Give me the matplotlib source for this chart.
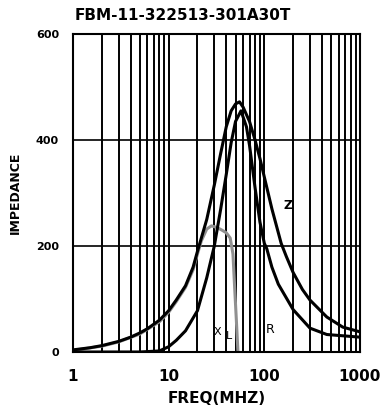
import matplotlib
matplotlib.use("Agg")
import matplotlib.pyplot as plt
from matplotlib.ticker import FixedLocator, NullFormatter

# curva Z (impedância total)
freq_z = [1, 1.5, 2, 3, 4, 5, 6, 8, 10, 12, 15, 18, 20, 25, 30, 35, 40, 45, 50, 55, 60,
          70, 80, 90, 100, 120, 150, 170, 200, 250, 300, 450, 660, 1000]
imp_z = [4, 8, 12, 20, 28, 36, 44, 60, 78, 98, 125, 160, 190, 250, 315, 375, 425, 455, 468, 472, 462,
         435, 400, 365, 330, 270, 205, 180, 150, 118, 98, 66, 47, 38]

# curva R (resistência)
freq_r = [1, 5, 8, 10, 12, 15, 20, 25, 30, 35, 40, 45, 50, 57, 65, 70, 80, 90, 100, 106,
          120, 140, 200, 300, 450, 1000]
imp_r = [0, 0, 2, 10, 22, 40, 78, 140, 200, 270, 335, 395, 435, 455, 425, 390, 310, 245, 205, 195,
         160, 128, 80, 45, 33, 28]

# curva X_L (reatância, em cinza)
freq_x = [1, 2, 3, 5, 8, 10, 12, 15, 18, 20, 22, 25, 28, 32, 36, 40, 44, 47, 49, 51, 53]
imp_x = [3, 11, 19, 34, 57, 75, 95, 122, 155, 185, 210, 232, 238, 235, 230, 225, 215, 185, 120, 60, 0]

ticks_x = [1, 10, 100, 1000]
ticks_y = [0, 200, 400, 600]
titulo = "FBM-11-322513-301A30T"

fig = plt.figure(figsize=(3.9, 4.16), dpi=100)
ax = fig.add_axes([73 / 390, 1 - 352 / 416, 287 / 390, 318 / 416])

ax.set_xscale("log")
ax.set_xlim(1, 1000)
ax.set_ylim(0, 600)

# grade vertical em todas as subdivisões da década
minor = [m * 10 ** d for d in range(3) for m in range(2, 10)]
for v in minor + [10, 100]:
    ax.axvline(v, color="black", lw=1.4, zorder=1)
for h in [200, 400]:
    ax.axhline(h, color="black", lw=1.2, zorder=1)

ax.plot(freq_x, imp_x, color="#909090", lw=2.2, zorder=2)
ax.plot(freq_r, imp_r, color="black", lw=2.2, zorder=3)
ax.plot(freq_z, imp_z, color="black", lw=2.2, zorder=3)

ax.text(176, 277, "Z", fontsize=9, fontweight="bold", ha="center", va="center")
ax.text(114, 42, "R", fontsize=9, ha="center", va="center")
ax.text(32, 38, "X", fontsize=8, ha="center", va="center")
ax.text(43, 30, "L", fontsize=8, ha="center", va="center")

ax.xaxis.set_major_locator(FixedLocator(ticks_x))
ax.xaxis.set_minor_formatter(NullFormatter())
ax.set_xticklabels([str(t) for t in ticks_x], fontsize=11, fontweight="bold")
ax.set_yticks(ticks_y)
ax.set_yticklabels([str(t) for t in ticks_y], fontsize=8, fontweight="bold")
ax.tick_params(which="both", length=0, pad=12)
ax.tick_params(axis="y", pad=10)

for s in ax.spines.values():
    s.set_linewidth(1.5)

ax.set_xlabel("FREQ(MHZ)", fontsize=11, fontweight="bold", labelpad=5)
ax.set_ylabel("IMPEDANCE", fontsize=9, fontweight="bold", labelpad=10)
fig.text(75 / 390, 1 - 15 / 416, titulo, fontsize=11, fontweight="bold", ha="left", va="center")

plt.savefig("out.png", dpi=100)
